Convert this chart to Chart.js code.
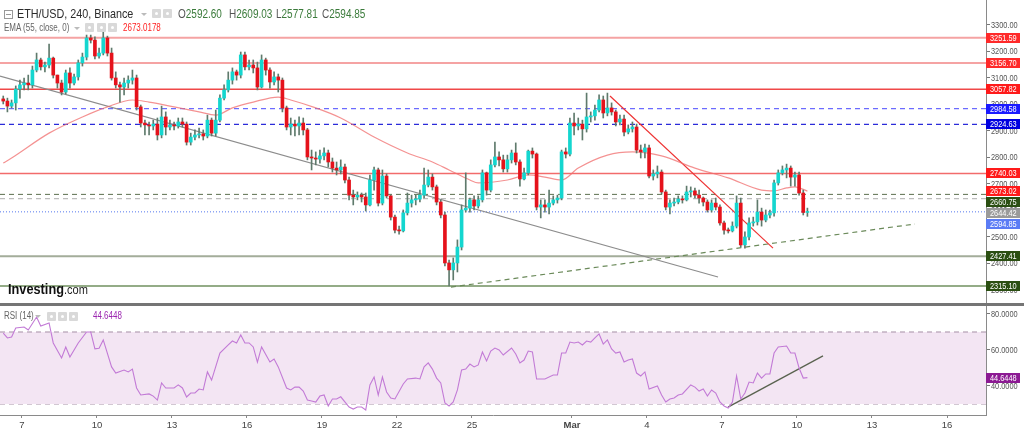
<!DOCTYPE html>
<html>
<head>
<meta charset="utf-8">
<title>ETH/USD, 240, Binance</title>
<script src="https://cdn.jsdelivr.net/npm/chart.js@4.4.1/dist/chart.umd.min.js"></script>
<style>
  body { margin: 0; background: #fff; font-family: "Liberation Sans", Arial, sans-serif; }
  #wrap { position: relative; width: 1024px; height: 430px; overflow: hidden; }
  canvas { position: absolute; left: 0; }
  #priceChart { top: 0; }
  #rsiChart { top: 306px; }
  .sep { position: absolute; left: 0; top: 303px; width: 1024px; height: 3px; background: #757575; }
  .t { position: absolute; white-space: nowrap; line-height: 1; transform: scaleX(.8); transform-origin: 0 0; }
  .ic { position: absolute; width: 9px; height: 9px; background: #d9d9d9; border-radius: 1px; }
  .ic::after { content: ''; position: absolute; left: 3px; top: 3px; width: 3px; height: 3px; background: #fff; border-radius: 50%; }
  .caret { position: absolute; width: 0; height: 0; border-left: 3px solid transparent; border-right: 3px solid transparent; border-top: 3px solid #bbb; }
  .mbox { position: absolute; width: 7px; height: 7px; border: 1px solid #999; }
  .mbox::after { content: ''; position: absolute; left: 1px; top: 3px; width: 5px; height: 1px; background: #999; }
  .ohlc { font-size: 12.5px; color: #3b7b3b; }
  .ohlc span { color: #555; }
</style>
</head>
<body>
<div id="wrap">
  <canvas id="priceChart" width="1024" height="303"></canvas>
  <div class="sep"></div>
  <canvas id="rsiChart" width="1024" height="124"></canvas>

  <div class="mbox" style="left:4px;top:10px"></div>
  <div class="t" style="left:17px;top:7px;font-size:13px;color:#2b2b2b;transform:scaleX(.83)">ETH/USD, 240, Binance</div>
  <div class="caret" style="left:141px;top:13px"></div>
  <div class="ic" style="left:152px;top:9px"></div>
  <div class="ic" style="left:163px;top:9px"></div>
  <div class="t ohlc" style="left:178px;top:8px"><span>O</span><b id="vo" style="font-weight:normal"></b></div>
  <div class="t ohlc" style="left:229px;top:8px"><span>H</span><b id="vh" style="font-weight:normal"></b></div>
  <div class="t ohlc" style="left:276px;top:8px"><span>L</span><b id="vl" style="font-weight:normal"></b></div>
  <div class="t ohlc" style="left:322px;top:8px"><span>C</span><b id="vc" style="font-weight:normal"></b></div>

  <div class="t" style="left:4px;top:23px;font-size:10px;color:#666">EMA (55, close, 0)</div>
  <div class="caret" style="left:74px;top:27px"></div>
  <div class="ic" style="left:85px;top:23px"></div>
  <div class="ic" style="left:97px;top:23px"></div>
  <div class="ic" style="left:108px;top:23px"></div>
  <div class="t" id="emaTxt" style="left:123px;top:23px;font-size:10px;color:#f22"></div>

  <div class="t" style="left:8px;top:281px;transform:scaleX(.85)"><b style="font-size:15px;color:#111">Investing</b><span style="font-size:13px;color:#222">.com</span></div>

  <div class="t" style="left:4px;top:311px;font-size:10px;color:#666">RSI (14)</div>
  <div class="caret" style="left:35px;top:315px"></div>
  <div class="ic" style="left:47px;top:312px"></div>
  <div class="ic" style="left:58px;top:312px"></div>
  <div class="ic" style="left:69px;top:312px"></div>
  <div class="t" id="rsiTxt" style="left:93px;top:311px;font-size:10px;color:#9c27b0"></div>
</div>

<script>
// 4h candles, first one Feb 6 06:00. x axis is in days of Feb (Mar 1 = 29)
const t0 = 6.25
const firstOpen = 3021
const closes = [
  3013, 2994, 3006, 3058, 3074, 3081, 3074, 3130, 3168, 3142,
  3149, 3175, 3111, 3081, 3047, 3119, 3081, 3104, 3157, 3179,
  3251, 3243, 3183, 3194, 3251, 3194, 3100, 3074, 3066, 3081,
  3092, 3100, 2991, 2930, 2923, 2919, 2926, 2885, 2953, 2915,
  2923, 2919, 2934, 2926, 2858, 2877, 2885, 2889, 2881, 2941,
  2892, 2941, 3024, 3055, 3092, 3123, 3111, 3187, 3142, 3149,
  3138, 3066, 3168, 3130, 3085, 3104, 3092, 2987, 2915, 2926,
  2919, 2930, 2904, 2802, 2798, 2794, 2806, 2817, 2783, 2760,
  2753, 2764, 2715, 2658, 2651, 2658, 2651, 2621, 2715, 2753,
  2628, 2730, 2655, 2575, 2526, 2523, 2591, 2628, 2640, 2643,
  2658, 2696, 2726, 2689, 2632, 2583, 2402, 2376, 2402, 2462,
  2602, 2609, 2640, 2617, 2640, 2742, 2677, 2772, 2802, 2791,
  2757, 2791, 2817, 2783, 2719, 2742, 2824, 2813, 2613, 2621,
  2613, 2628, 2640, 2647, 2821, 2813, 2930, 2919, 2926, 2908,
  2953, 2957, 2979, 3017, 2968, 2987, 2972, 2934, 2945, 2896,
  2908, 2915, 2828, 2821, 2836, 2730, 2738, 2745, 2670, 2613,
  2628, 2632, 2643, 2640, 2670, 2674, 2658, 2647, 2632, 2602,
  2628, 2613, 2553, 2526, 2523, 2541, 2628, 2470, 2500, 2553,
  2557, 2594, 2564, 2583, 2591, 2704, 2742, 2753, 2760, 2726,
  2734, 2666, 2592.60, 2594.85
]
const highs = [
  3032, 3024, 3017, 3070, 3092, 3100, 3111, 3145, 3194, 3175,
  3160, 3228, 3179, 3108, 3092, 3130, 3138, 3115, 3168, 3194,
  3262, 3262, 3255, 3213, 3281, 3258, 3213, 3123, 3085, 3100,
  3108, 3130, 3111, 2998, 2941, 2934, 2941, 2949, 2994, 2972,
  2941, 2934, 2949, 2949, 2934, 2892, 2904, 2911, 2904, 2960,
  2949, 2979, 3036, 3074, 3123, 3138, 3130, 3198, 3198, 3168,
  3168, 3160, 3187, 3175, 3138, 3123, 3115, 3100, 2994, 2949,
  2941, 2953, 2949, 2910, 2828, 2821, 2828, 2836, 2828, 2798,
  2783, 2791, 2775, 2726, 2677, 2670, 2666, 2666, 2734, 2764,
  2760, 2753, 2738, 2658, 2583, 2541, 2602, 2666, 2658, 2658,
  2677, 2760, 2753, 2738, 2696, 2640, 2594, 2413, 2421, 2489,
  2621, 2742, 2647, 2655, 2655, 2753, 2745, 2791, 2858, 2821,
  2809, 2809, 2828, 2855, 2791, 2760, 2828, 2836, 2817, 2640,
  2640, 2677, 2655, 2658, 2828, 2836, 2949, 2968, 2949, 2941,
  3043, 2972, 2998, 3036, 3032, 3043, 3006, 2979, 2960, 2960,
  2923, 2934, 2926, 2847, 2851, 2847, 2753, 2768, 2753, 2677,
  2640, 2647, 2655, 2655, 2692, 2689, 2685, 2677, 2651, 2640,
  2640, 2647, 2621, 2560, 2534, 2557, 2655, 2647, 2519, 2572,
  2575, 2640, 2609, 2602, 2602, 2715, 2753, 2768, 2775, 2768,
  2745, 2745, 2677, 2609.03
]
const lows = [
  3002, 2972, 2987, 2979, 3024, 3055, 3055, 3062, 3123, 3130,
  3123, 3138, 3100, 3062, 3036, 3040, 3062, 3074, 3092, 3145,
  3168, 3232, 3172, 3175, 3187, 3183, 3092, 3062, 3009, 3036,
  3062, 3077, 2979, 2915, 2885, 2885, 2904, 2866, 2874, 2885,
  2904, 2904, 2911, 2915, 2847, 2847, 2866, 2874, 2866, 2874,
  2881, 2881, 2934, 3017, 3047, 3077, 3092, 3100, 3130, 3130,
  3119, 3055, 3062, 3111, 3062, 3074, 3047, 2972, 2904, 2885,
  2881, 2885, 2885, 2791, 2753, 2772, 2779, 2791, 2764, 2745,
  2734, 2738, 2704, 2640, 2621, 2640, 2632, 2598, 2617, 2677,
  2617, 2621, 2647, 2564, 2515, 2511, 2519, 2583, 2613, 2621,
  2632, 2647, 2689, 2677, 2621, 2572, 2391, 2315, 2338, 2368,
  2451, 2594, 2594, 2602, 2609, 2632, 2658, 2670, 2764, 2768,
  2745, 2745, 2779, 2772, 2692, 2715, 2734, 2798, 2602, 2572,
  2594, 2587, 2621, 2628, 2640, 2798, 2806, 2885, 2904, 2866,
  2896, 2934, 2941, 2972, 2949, 2957, 2960, 2919, 2923, 2881,
  2889, 2896, 2817, 2798, 2798, 2723, 2715, 2723, 2662, 2602,
  2587, 2617, 2625, 2628, 2636, 2651, 2647, 2628, 2617, 2594,
  2594, 2602, 2545, 2511, 2515, 2519, 2534, 2462, 2458, 2489,
  2541, 2545, 2541, 2557, 2572, 2579, 2696, 2734, 2723, 2692,
  2692, 2658, 2583, 2577.81
]

// EMA(55), at candle indexes
const emaIdx = [0, 2, 11, 19, 25, 31, 35, 41, 47, 51, 55, 60, 66, 69, 75, 81, 89, 97, 103, 107,
  112, 114, 121, 126, 130, 134, 138, 145, 151, 158, 166, 174, 182, 185, 188, 190, 193]
const emaVals = [2779, 2798, 2892, 2953, 2991, 3017, 3009, 2991, 2972, 2960, 2987, 3009, 3028, 3017, 2987, 2949, 2877, 2817, 2783, 2753,
  2715, 2704, 2715, 2734, 2726, 2715, 2760, 2809, 2821, 2806, 2760, 2723, 2677, 2674, 2685, 2689, 2673.0178]

// RSI(14) at candle indexes
const rsiIdx = [
  0, 1, 2, 3, 5, 6, 8, 9, 11, 12, 14, 15, 16, 18, 20, 21, 22, 23, 24, 26,
  27, 29, 30, 31, 32, 33, 35, 36, 37, 38, 39, 41, 42, 43, 44, 45, 46, 47, 48, 49,
  50, 52, 54, 55, 56, 57, 58, 59, 60, 61, 62, 64, 65, 66, 68, 69, 70, 71, 72, 73,
  74, 75, 76, 77, 78, 79, 80, 81, 83, 84, 85, 86, 87, 88, 89, 90, 91, 92, 93, 94,
  96, 97, 99, 100, 101, 102, 103, 104, 105, 106, 107, 108, 109, 110, 111, 112, 113, 114, 115, 116,
  117, 118, 119, 120, 122, 123, 124, 125, 126, 127, 128, 130, 132, 133, 134, 135, 136, 137, 138, 139,
  140, 141, 142, 143, 144, 145, 146, 147, 148, 149, 150, 151, 152, 153, 154, 155, 157, 158, 159, 160,
  161, 162, 163, 165, 166, 167, 168, 169, 170, 171, 172, 173, 174, 175, 176, 177, 178, 179, 180, 181,
  182, 183, 184, 185, 186, 188, 189, 190, 191, 192, 193
]
const rsiVals = [
  69.4, 66.7, 67.2, 72.2, 72.8, 71.1, 78.3, 73.3, 75, 63.9, 55.6, 61.7, 56.1, 63.9, 70, 70, 60.6, 61, 65.6, 50.6,
  47.2, 48.9, 47.8, 49.4, 38.9, 35, 35.6, 34.4, 32.2, 41.7, 38.9, 38.9, 40.6, 38.9, 33.9, 36.1, 36.1, 38.3, 37.8, 47.8,
  43.3, 58.3, 62.8, 65, 63.9, 68.3, 63.9, 63.9, 61.7, 53.3, 61.7, 53.3, 55, 50.6, 38.9, 37.8, 39.4, 39.4, 37.2, 32.2,
  31.7, 31.1, 34.4, 35, 28.9, 32.8, 32.8, 34, 28.3, 27.2, 28.3, 28.3, 26.7, 40.6, 45, 35, 45, 36.7, 33.3, 32.8,
  41.1, 43.9, 44.4, 43.9, 50.6, 52.8, 49.4, 44.4, 41.7, 30.6, 28.9, 31.1, 37.8, 48.9, 49.4, 52.2, 50.6, 51.7, 58.9, 53.9,
  59.4, 61.1, 60, 57.2, 61.1, 57.8, 52.8, 54.4, 59.4, 58.9, 43.9, 43.9, 46.1, 46.1, 58.3, 58.3, 64.4, 63.9, 64.4, 62.8,
  65, 64.4, 66.7, 68.9, 63.3, 65.6, 60.6, 58.3, 58.9, 53.3, 54.4, 55, 47.2, 45.6, 47.8, 38.3, 40, 35, 31.1, 32.8,
  33.3, 35, 35.6, 40.6, 39.4, 37.2, 38.3, 34.4, 37.8, 36.1, 31.1, 28.9, 27.8, 31.1, 45.6, 32.8, 36.1, 42.2, 41.7, 47.2,
  44.4, 46.7, 46.7, 58.3, 61.7, 62.2, 58.3, 58.3, 50, 44.4, 44.6448
]

// horizontal levels drawn on the chart
const levelVals = [3251.59, 3156.70, 3057.82, 2984.58, 2924.63, 2740.03, 2660.75, 2644.42, 2594.85, 2427.41, 2315.10]
// trend lines, [day, value]
const grayTrend = [[6.12, 3107], [34.84, 2349]]
const redTrend = [[30.52, 3032], [37.04, 2458]]
const greenTrend = [[24.16, 2311], [42.72, 2549]]
const rsiTrend = [[35.24, 28.3], [39.04, 56.7]]

const dayTicks = [7, 10, 13, 16, 19, 22, 25, 29, 32, 35, 38, 41, 44]
const dayLabels = ['7', '10', '13', '16', '19', '22', '25', 'Mar', '4', '7', '10', '13', '16']
const priceTicks = [3300, 3200, 3100, 3000, 2900, 2800, 2700, 2600, 2500, 2400, 2300]
const rsiTicks = [80, 60, 40]

// styles
const levelStyle = [
  { color: '#f5a3a3', width: 2, dash: [], tag: '#ff2a2a' },
  { color: '#f5a3a3', width: 2, dash: [], tag: '#ff2a2a' },
  { color: '#f04848', width: 1.5, dash: [], tag: '#ff1a1a' },
  { color: '#6b6bff', width: 1.3, dash: [5, 4], tag: '#1a1aff' },
  { color: '#2b2bd9', width: 1.3, dash: [5, 4], tag: '#0000e0' },
  { color: '#f26b6b', width: 1.5, dash: [], tag: '#ff1a1a' },
  { color: '#5c6f4e', width: 1, dash: [5, 4], tag: '#2b4f12' },
  { color: '#bdbdbd', width: 1.2, dash: [5, 4], tag: '#9a9a9a' },
  { color: '#5577ee', width: 1, dash: [1, 2], tag: '#5b7cf5' },
  { color: '#a3ad9a', width: 2, dash: [], tag: '#2b4f12' },
  { color: '#71905f', width: 1.5, dash: [], tag: '#2b4f12' }
]
const upColor = '#14d6cf', downColor = '#e5121b', wickColor = '#5f7a6c'

const xMin = 6.12, xMax = 45.56
const priceMin = 2250.9, priceMax = 3394.3
const rsiMin = 23.89, rsiMax = 84.44

Chart.defaults.font.family = '"Liberation Sans", Arial, sans-serif'

const tOf = i => t0 + i / 6
const opens = closes.map((c, i) => i ? closes[i - 1] : firstOpen)
const last = closes.length - 1

const bodies = closes.map((c, i) => ({ x: tOf(i), y: [opens[i], c] }))
const wicks = closes.map((c, i) => ({ x: tOf(i), y: [Math.min(lows[i], opens[i], c), Math.max(highs[i], opens[i], c)] }))
const bodyColors = closes.map((c, i) => c >= opens[i] ? upColor : downColor)

const flat = v => [{ x: xMin, y: v }, { x: xMax, y: v }]
const seg = pts => pts.map(p => ({ x: p[0], y: p[1] }))
const thin = (data, color, width, dash, order) => ({
  type: 'line', data, borderColor: color, borderWidth: width, borderDash: dash || [], pointRadius: 0, fill: false, order
})

// header texts from the data
document.getElementById('vo').textContent = opens[last].toFixed(2)
document.getElementById('vh').textContent = highs[last].toFixed(2)
document.getElementById('vl').textContent = lows[last].toFixed(2)
document.getElementById('vc').textContent = closes[last].toFixed(2)
document.getElementById('emaTxt').textContent = emaVals[emaVals.length - 1].toFixed(4)
document.getElementById('rsiTxt').textContent = rsiVals[rsiVals.length - 1].toFixed(4)

function narrowText(ctx, s, x, y) {
  ctx.save()
  ctx.translate(x, y)
  ctx.scale(0.82, 1)
  ctx.fillText(s, 0, 0)
  ctx.restore()
}

// right axis labels + coloured value tags
function axisTags(tickVals, digits, tags) {
  return {
    id: 'axisTags',
    afterDraw(chart) {
      const ctx = chart.ctx, sy = chart.scales.y, x0 = chart.chartArea.right
      ctx.save()
      ctx.font = '9px "Liberation Sans", Arial, sans-serif'
      ctx.textBaseline = 'middle'
      ctx.fillStyle = '#555'
      tickVals.forEach(v => narrowText(ctx, v.toFixed(digits), x0 + 5, sy.getPixelForValue(v) + 0.5))
      let prev = -100
      tags.map(t => ({ v: t.v, bg: t.bg, py: sy.getPixelForValue(t.v) }))
        .sort((a, b) => a.py - b.py)
        .forEach(t => {
          const py = Math.round(Math.max(t.py, prev + 10.5))
          prev = py
          ctx.fillStyle = t.bg
          ctx.fillRect(x0, py - 5, 34, 10)
          ctx.fillStyle = '#fff'
          narrowText(ctx, t.v.toFixed(digits), x0 + 4, py + 0.5)
        })
      ctx.restore()
    }
  }
}

const priceTags = levelVals.map((v, k) => ({ v, bg: levelStyle[k].tag }))
priceTags.push({ v: emaVals[emaVals.length - 1], bg: '#ff1a1a' })

const base = {
  responsive: false,
  animation: false,
  events: [],
  plugins: { legend: { display: false }, tooltip: { enabled: false } }
}

new Chart(document.getElementById('priceChart'), {
  type: 'bar',
  data: {
    datasets: [
      { type: 'bar', data: bodies, backgroundColor: bodyColors, barThickness: 3, minBarLength: 1, grouped: false, order: 0 },
      { type: 'bar', data: wicks, backgroundColor: wickColor, barThickness: 1, grouped: false, order: 1 },
      { type: 'line', data: emaIdx.map((i, k) => ({ x: tOf(i), y: emaVals[k] })), borderColor: 'rgba(240,110,110,0.75)',
        borderWidth: 1.2, pointRadius: 0, cubicInterpolationMode: 'monotone', fill: false, order: 2 },
      thin(seg(grayTrend), '#8c8c8c', 1.2, [], 2),
      thin(seg(redTrend), '#ee3333', 1.2, [], 2),
      thin(seg(greenTrend), '#6b8a5a', 1.2, [5, 4], 2),
      ...levelVals.map((v, k) => thin(flat(v), levelStyle[k].color, levelStyle[k].width, levelStyle[k].dash, 3))
    ]
  },
  options: {
    ...base,
    scales: {
      x: { type: 'linear', min: xMin, max: xMax, offset: false, display: false },
      y: {
        type: 'linear', position: 'right', min: priceMin, max: priceMax,
        afterBuildTicks: s => { s.ticks = priceTicks.map(v => ({ value: v })) },
        afterFit: s => { s.width = 38 },
        ticks: { display: false },
        grid: { drawOnChartArea: false, tickLength: 4, color: '#777' },
        border: { color: '#8a8a8a' }
      }
    }
  },
  plugins: [axisTags(priceTicks, 2, priceTags)]
})

new Chart(document.getElementById('rsiChart'), {
  type: 'line',
  data: {
    datasets: [
      { data: rsiIdx.map((i, k) => ({ x: tOf(i), y: rsiVals[k] })), borderColor: '#c27ad6', borderWidth: 1.1, pointRadius: 0, fill: false, order: 0 },
      { data: flat(70), borderColor: '#a58fa5', borderWidth: 1, borderDash: [5, 4], pointRadius: 0, fill: '+1', backgroundColor: '#f3e5f3', order: 2 },
      { data: flat(30), borderColor: '#a58fa5', borderWidth: 1, borderDash: [5, 4], pointRadius: 0, fill: false, order: 2 },
      thin(seg(rsiTrend), '#59624f', 1.3, [], 1)
    ]
  },
  options: {
    ...base,
    scales: {
      x: {
        type: 'linear', min: xMin, max: xMax, offset: false,
        afterBuildTicks: s => { s.ticks = dayTicks.map(v => ({ value: v })) },
        afterFit: s => { s.height = 15 },
        grid: { drawOnChartArea: false, tickLength: 3, color: '#888', offset: false },
        border: { color: '#8a8a8a' },
        ticks: {
          autoSkip: false, maxRotation: 0, padding: 2, color: '#444',
          callback: (v, i) => dayLabels[i],
          font: c => ({ size: 9.5, weight: (c.tick && c.tick.value === 29) ? 'bold' : 'normal' })
        }
      },
      y: {
        type: 'linear', position: 'right', min: rsiMin, max: rsiMax,
        afterBuildTicks: s => { s.ticks = rsiTicks.map(v => ({ value: v })) },
        afterFit: s => { s.width = 38 },
        ticks: { display: false },
        grid: { drawOnChartArea: false, tickLength: 4, color: '#777' },
        border: { color: '#8a8a8a' }
      }
    }
  },
  plugins: [axisTags(rsiTicks, 4, [{ v: rsiVals[rsiVals.length - 1], bg: '#8c1a93' }])]
})
</script>
</body>
</html>
